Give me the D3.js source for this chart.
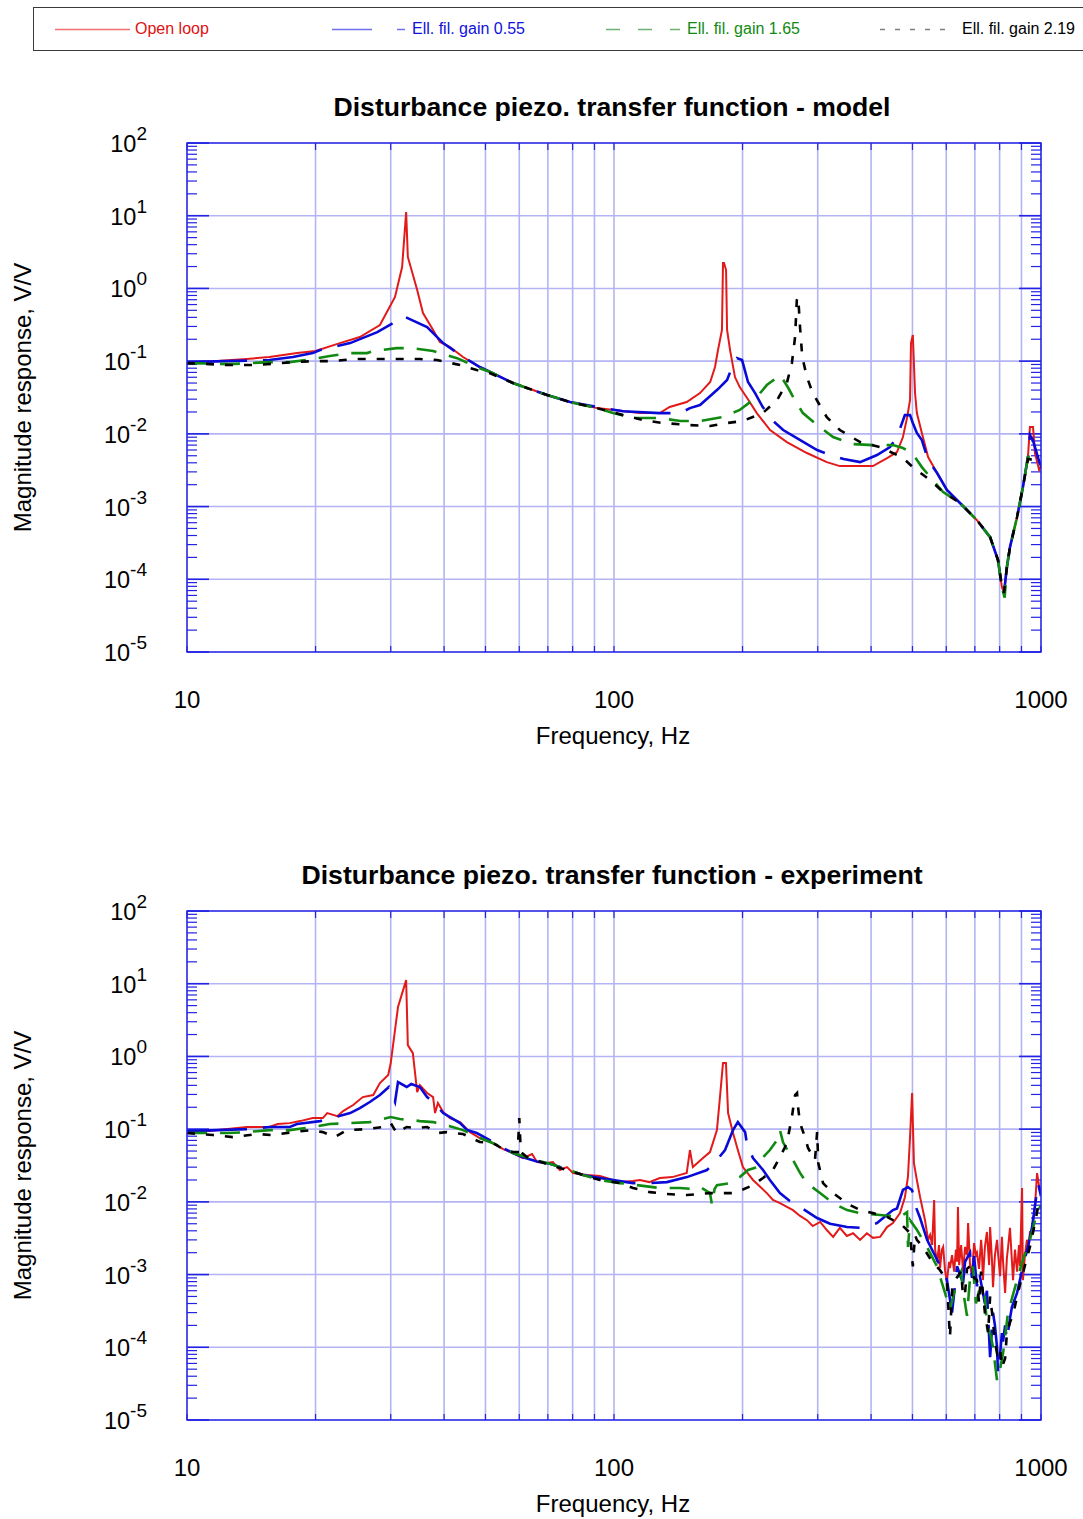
<!DOCTYPE html>
<html>
<head>
<meta charset="utf-8">
<script src="https://cdn.jsdelivr.net/npm/d3@7"></script>
<style>
  html, body { margin: 0; padding: 0; background: #fff; }
  svg { display: block; }
  text { font-family: "Liberation Sans", Arial, Helvetica, sans-serif; }
</style>
</head>
<body>
<svg id="chart" width="1083" height="1519"></svg>
<script>
// ---- axis ticks and labels ----
const freqTickValues = [10, 100, 1000];
const magExponents = [2, 1, 0, -1, -2, -3, -4, -5];
const panelTitles = [
  "Disturbance piezo. transfer function - model",
  "Disturbance piezo. transfer function - experiment"
];
const xAxisTitle = "Frequency, Hz";
const yAxisTitle = "Magnitude response, V/V";
const seriesNames = ["Open loop", "Ell. fil. gain 0.55", "Ell. fil. gain 1.65", "Ell. fil. gain 2.19"];

// ---- model: [frequency Hz, magnitude V/V] ----
const modelOpenLoop = [
  [10,0.094],[13.8,0.107],[15.6,0.114],[18.1,0.129],[20,0.138],[22.8,0.177],[25.4,0.2145],[28.3,0.314],
  [30.7,0.762],[31.9,1.97],[32.6,11.2],[32.9,2.71],[34.6,0.95],[35.7,0.459],[37.7,0.268],[39.1,0.183],
  [41.3,0.156],[44.3,0.114],[48.5,0.083],[51.3,0.071],[58,0.05],[69.7,0.0342],[78.9,0.0274],[91.2,0.0226],
  [115,0.0193],[128,0.0193],[135,0.0234],[148,0.0274],[159,0.0364],[168,0.0516],[172.4,0.083],[175.2,0.142],
  [179,0.268],[180,2.24],[181,2.24],[183,1.79],[184,0.268],[187,0.142],[192,0.0604],[197,0.044],[205,0.0311],
  [216,0.0193],[232,0.0113],[254,0.00771],[283,0.00545],[315,0.00409],[338,0.0036],[404,0.0036],[436,0.00465],
  [460,0.00562],[475,0.00904],[486,0.017],[493.5,0.0292],[496,0.177],[501,0.229],[507,0.0364],[512,0.0193],
  [526,0.0103],[544,0.0048],[571,0.00289],[602,0.00169],[646,0.00112],[708,0.00065],[760,0.00038],
  [793,0.000184],[810,7.8e-5],[819,6.5e-5],[832,0.000147],[846,0.000277],[879,0.00072],[907,0.00185],
  [932,0.0048],[942,0.0124],[958,0.0124],[968,0.00545],[990,0.00318],[1000,0.0035]
];
const modelGain055 = [
  [10,0.097],[15.6,0.1035],[17.7,0.114],[19.7,0.129],[20.5,0.142],[24.1,0.177],[27.9,0.251],[30.4,0.334],
  [32.1,0.417],[36.5,0.294],[39.8,0.177],[44.3,0.114],[48.5,0.083],[51.3,0.071],[58,0.05],[69.7,0.0342],
  [78.9,0.0274],[91.2,0.0234],[105,0.0205],[128,0.0193],[143,0.0193],[150.6,0.0226],[159,0.0249],[166,0.0311],
  [175,0.041],[184,0.055],[189,0.083],[194,0.11],[199.5,0.1035],[206,0.0516],[214,0.0364],[223,0.0234],
  [236,0.015],[249,0.0113],[273,0.00822],[299,0.00598],[317,0.00527],[345,0.0045],[377,0.00409],[413,0.00511],
  [443,0.00658],[460,0.00904],[480,0.0181],[493.5,0.0181],[501,0.0141],[512,0.0103],[526,0.00822],[544,0.00436],
  [571,0.00289],[602,0.00169],[646,0.00112],[708,0.00065],[760,0.00038],[793,0.000184],[810,7.8e-5],[819,6.5e-5],
  [832,0.000147],[846,0.000277],[879,0.00072],[907,0.00185],[932,0.0048],[942,0.0096],[958,0.0081],[990,0.0042],[1000,0.0036]
];
const modelGain165 = [
  [10,0.094],[12.6,0.091],[15.6,0.097],[17.4,0.097],[19.7,0.107],[21.6,0.1175],[24.1,0.129],[26.4,0.129],
  [27.3,0.138],[31,0.151],[33.8,0.151],[37.7,0.138],[39.8,0.125],[42.9,0.11],[48.5,0.08],[51.3,0.071],[58,0.05],
  [69.7,0.0342],[78.9,0.0274],[91.2,0.0226],[99.5,0.0193],[111,0.0165],[128,0.0165],[143,0.015],[159,0.015],
  [179,0.017],[197,0.0213],[216,0.0321],[228,0.0469],[245,0.0644],[256,0.0427],[265,0.0292],[277,0.0193],
  [299,0.0132],[326,0.00904],[363,0.00724],[404,0.00701],[450,0.00701],[475,0.00638],[499,0.00545],[526,0.00349],
  [550,0.00255],[590,0.00158],[646,0.00112],[708,0.00065],[760,0.00038],[793,0.000184],[810,7.8e-5],[822,5.6e-5],
  [832,0.000147],[846,0.000277],[879,0.00072],[907,0.00185],[932,0.0048],[950,0.0051],[968,0.0051],[1000,0.0045]
];
const modelGain219 = [
  [10,0.094],[12.5,0.0884],[14.6,0.0884],[17.7,0.097],[19.7,0.1],[22,0.1],[24.5,0.107],[27.3,0.107],[31,0.107],
  [35.1,0.107],[38.5,0.1035],[43.6,0.0884],[47.7,0.0754],[51.3,0.068],[58,0.05],[69.7,0.0342],[78.9,0.0274],
  [91.2,0.0226],[105,0.0181],[117,0.0155],[130,0.0141],[151,0.0132],[168,0.0128],[184,0.0141],[200,0.015],
  [223,0.0193],[241,0.0292],[254,0.05],[261,0.0942],[265.5,0.2145],[268,0.692],[270,0.762],[273,0.268],
  [276,0.114],[283,0.0604],[292,0.0364],[315,0.017],[338,0.0113],[377,0.00771],[420,0.00658],[460,0.00511],
  [475,0.00465],[501,0.00349],[550,0.00231],[590,0.00158],[646,0.00112],[708,0.00065],[760,0.00038],
  [793,0.000184],[810,7.8e-5],[819,6.5e-5],[832,0.000147],[846,0.000277],[879,0.00072],[907,0.00185],
  [932,0.0045],[958,0.0044],[1000,0.0035]
];

// ---- experiment: [frequency Hz, magnitude V/V] ----
const expOpenLoop = [
  [10,0.088],[13.8,0.107],[15.6,0.107],[16.3,0.1175],[17.4,0.121],[18.4,0.129],[19.7,0.142],[20.8,0.142],
  [21.3,0.1665],[22.5,0.151],[23.2,0.177],[24.5,0.2145],[25.8,0.276],[27.3,0.294],[28.3,0.431],[29.6,0.555],
  [30,0.811],[31.2,4.78],[32.6,11.2],[32.9,1.43],[33.8,1.11],[34.6,0.324],[35.1,0.404],[36.5,0.314],[37.7,0.276],
  [38.1,0.1665],[38.7,0.2286],[39.8,0.172],[41.3,0.142],[43.6,0.125],[46,0.091],[48.5,0.0754],[52.1,0.0644],
  [55,0.0532],[58,0.0469],[61.2,0.04],[64.3,0.0455],[66,0.0353],[69.7,0.0342],[71.9,0.0353],[74.7,0.0274],
  [77.6,0.0301],[80.2,0.0249],[86.5,0.0234],[92.7,0.0226],[99.5,0.02],[103.3,0.0187],[110.8,0.0193],[115,0.02],
  [121,0.0187],[128,0.0213],[137,0.0219],[148,0.0249],[150.6,0.0516],[153,0.0301],[161.6,0.04],[167.8,0.0484],
  [174.2,0.097],[177,0.268],[180,0.811],[182.9,0.811],[185,0.1665],[190,0.0884],[195,0.0516],[200.4,0.0301],
  [211.6,0.02],[228,0.0132],[235.6,0.0106],[244.7,0.0096],[262.5,0.0077],[272.7,0.0064],[283,0.0056],
  [292,0.00465],[304,0.0053],[315,0.0041],[326,0.0033],[338,0.0044],[351,0.0034],[363,0.0037],[377,0.003],
  [391,0.0037],[404,0.0032],[420,0.0033],[436,0.0045],[450,0.0051],[467.5,0.007],[480,0.0116],[488,0.022],
  [493.5,0.078],[499,0.314],[504,0.034],[512,0.02],[521,0.0116],
  [535,0.0056],[544,0.003],[550,0.0035],[556,0.00255],[562,0.0106],[565,0.0022],[571,0.0015],[577,0.00255],
  [580,0.00123],[586,0.0022],[590,0.0024],[596,0.00115],[602,0.00079],[609,0.0015],[612,0.00123],[619,0.00185],
  [626,0.0011],[632,0.0022],[636,0.0015],[639,0.0085],[643,0.00135],[650,0.00255],[657,0.0011],[664,0.0024],
  [671,0.00185],[675,0.0051],[682,0.00135],[689,0.00095],[697,0.00271],[704,0.00185],[708,0.002],[716,0.0012],
  [724,0.003],[727,0.0022],[731,0.00084],[739,0.0024],[747,0.00385],[756,0.00135],[760,0.0045],[768,0.0015],
  [772,0.00067],[780,0.00185],[789,0.003],[793,0.002],[802,0.00095],[810,0.0033],[815,0.0015],[824,0.00056],
  [832,0.00169],[837,0.00232],[846,0.0044],[855,0.0015],[860,0.00084],[869,0.0022],[879,0.0011],[888,0.00255],
  [893,0.0013],[903,0.0155],[907,0.00084],[917,0.00185],[927,0.003],[937,0.00255],[942,0.00385],[953,0.0041],
  [963,0.0066],[968,0.0085],[979,0.0249],[989,0.017],[995,0.0145],[1000,0.016]
];
const expGain055 = [
  [10,0.094],[13.8,0.1],[15.6,0.107],[17.4,0.107],[18.1,0.1175],[20.5,0.129],[24.1,0.1665],[25.4,0.195],
  [26.8,0.236],[28.3,0.294],[29.7,0.38],[30.7,0.236],[31.2,0.445],[32.7,0.38],[33.5,0.417],[35.1,0.38],
  [36.5,0.276],[38.1,0.2286],[38.7,0.201],[39.8,0.1665],[43.6,0.121],[45.3,0.097],[47.7,0.0884],[51.3,0.07],
  [55,0.055],[58,0.047],[61.2,0.041],[66,0.036],[70.8,0.0334],[77.6,0.028],[84.6,0.0234],[92.7,0.0213],
  [110.8,0.0181],[121.4,0.0181],[133,0.0187],[148.2,0.0219],[165.1,0.0274],[174.2,0.0376],[182,0.0516],
  [190,0.097],[195,0.125],[202.8,0.091],[205,0.0604],[211.6,0.04],[223.4,0.0274],[231.8,0.02],[244.7,0.0132],
  [258,0.0103],[272.7,0.0085],[299,0.006],[320.6,0.005],[351.4,0.0045],[377,0.0044],[413,0.0051],[450,0.0077],
  [460,0.0081],[475,0.0146],[488,0.016],[499,0.0145],[507,0.0091],[521,0.006],[541,0.003],[571,0.0016],
  [602,0.00085],[619,0.0003],[636,0.0013],[657,0.00076],[664,0.0015],[682,0.002],[689,0.0009],[697,0.0018],
  [708,0.00069],[716,0.0011],[731,0.00056],[739,0.0004],[747,0.0006],[760,7.3e-5],[772,0.0003],[780,0.0002],
  [789,0.0001],[793,4.4e-5],[802,8e-5],[810,0.000157],[815,0.00012],[824,0.0002],[832,0.000126],[846,0.00025],
  [855,0.00036],[879,0.00056],[907,0.0013],[932,0.0024],[953,0.0045],[984,0.018],[1000,0.012]
];
const expGain165 = [
  [10,0.0884],[12.4,0.0884],[13.8,0.091],[15.6,0.097],[17.4,0.097],[19.7,0.107],[21.6,0.1175],[24.1,0.121],
  [26.8,0.125],[30,0.1466],[31.5,0.1377],[33.8,0.133],[35.1,0.129],[37.7,0.125],[41.3,0.11],[44.3,0.097],
  [48.5,0.0754],[52.1,0.064],[55,0.055],[58,0.047],[62.5,0.041],[66,0.037],[70.8,0.0334],[77.6,0.028],
  [84.6,0.0234],[92.7,0.02],[103.3,0.0181],[113.2,0.017],[128.2,0.0155],[142.8,0.0155],[153,0.015],[159,0.016],
  [167.8,0.0132],[169.6,0.0091],[172,0.015],[174.2,0.017],[187,0.0181],[197,0.0219],[206,0.0274],[216.3,0.03],
  [223.4,0.041],[231.8,0.0516],[240.8,0.0708],[244.7,0.097],[248.8,0.066],[262.5,0.0376],[272.7,0.025],
  [283.1,0.0181],[303.7,0.0132],[325.8,0.0096],[351.4,0.0077],[376.7,0.007],[419.7,0.0066],[467.5,0.0062],
  [485.6,0.0072],[488.2,0.0024],[493.5,0.0056],[512.4,0.0041],[540.8,0.0024],[570.6,0.0013],[612.3,0.00033],
  [636,0.00084],[650,0.0011],[657,0.0006],[671,0.00027],[682,0.0009],[692.8,0.0013],[704,0.0004],[719.5,0.00067],
  [739,0.0005],[747,0.0002],[760,0.000157],[772,0.0001],[789,3.5e-5],[802,5e-5],[815,8.3e-5],[837,0.0003],
  [879,0.00084],[907,0.0016],[942,0.003],[979,0.0072],[1000,0.009]
];
const expGain219 = [
  [10,0.0884],[11.5,0.083],[12.8,0.0778],[14.6,0.0857],[15.8,0.083],[17.7,0.091],[19.6,0.097],[20.8,0.091],
  [22.2,0.0778],[23.7,0.097],[26.4,0.1],[28.8,0.107],[30,0.121],[31,0.0884],[32.7,0.107],[34.6,0.1035],
  [36.5,0.107],[38.5,0.0884],[40.6,0.091],[44.3,0.0857],[48.5,0.0665],[52.1,0.0644],[55,0.053],[58,0.0484],
  [59.5,0.0484],[60,0.142],[60.5,0.0484],[62.5,0.0413],[70.8,0.0321],[77.6,0.0274],[84.6,0.0234],[92.7,0.02],
  [103.3,0.0181],[110.8,0.0155],[121.4,0.0136],[133,0.0128],[148.2,0.0124],[167.8,0.0132],[177,0.0132],
  [190,0.0132],[200.4,0.0148],[211.6,0.017],[223.4,0.0213],[235.6,0.0274],[244.7,0.0413],[251.5,0.0567],
  [255.6,0.0778],[261,0.1466],[265.5,0.294],[268.3,0.314],[269.8,0.201],[272.7,0.121],[280,0.0778],[284.7,0.055],
  [295.6,0.0376],[299,0.091],[301,0.034],[308.7,0.0181],[325.8,0.0132],[351.4,0.0095],[377,0.0077],[404,0.007],
  [436,0.0062],[450,0.0056],[467.5,0.0051],[485.6,0.0041],[493.5,0.0037],[501,0.0013],[507,0.0035],[512,0.003],
  [529,0.0024],[556,0.0015],[580,0.00115],[602,0.00084],[612,0.000138],[620,0.0007],[636,0.00092],[650,0.0011],
  [657,0.0005],[664,0.00056],[671,0.0012],[682,0.0013],[697,0.0009],[708,0.00084],[716,0.0004],[724,0.0011],
  [731,0.00056],[739,0.0003],[752,0.000157],[760,0.0005],[768,0.0003],[780,0.00012],[789,8.3e-5],[802,0.0001],
  [810,5.3e-5],[824,7e-5],[832,0.000157],[846,0.00022],[860,0.00028],[883,0.00056],[907,0.00105],[942,0.0024],
  [968,0.0051],[984,0.0085],[1000,0.007]
];

// ---- drawing ----
const svg = d3.select("#chart");
const frameColor = "#2323e6";
const gridColor = "#b4b4f2";
const seriesStyles = [
  { color: "#e31a1a", width: 2.0, dash: null,     legendDash: null },
  { color: "#0a0ad8", width: 2.6, dash: "60,16",  legendDash: "40,25" },
  { color: "#108a10", width: 2.6, dash: "20,13",  legendDash: "14,18" },
  { color: "#000000", width: 2.6, dash: "8,11",   legendDash: "5,10" }
];
const legendLineColor = ["#ee7070", "#7070ee", "#70b070", "#808080"];

// legend
const legend = svg.append("g");
legend.append("rect").attr("x", 33.5).attr("y", 7.5).attr("width", 1060).attr("height", 43)
  .attr("fill", "none").attr("stroke", "#3a3a3a").attr("stroke-width", 1);
const legendLine = [[55, 130], [332, 405], [606, 680], [880, 950]];
const legendText = [135, 412, 687, 962];
const legendTextColor = ["#e01010", "#1010e0", "#108a10", "#000000"];
seriesNames.forEach((name, i) => {
  legend.append("line").attr("x1", legendLine[i][0]).attr("x2", legendLine[i][1])
    .attr("y1", 29.5).attr("y2", 29.5).attr("stroke", legendLineColor[i])
    .attr("stroke-width", 1.3)
    .attr("stroke-dasharray", seriesStyles[i].legendDash);
  legend.append("text").attr("x", legendText[i]).attr("y", 33.5).attr("font-size", 16)
    .attr("fill", legendTextColor[i]).text(name);
});

function drawPanel(top, title, series, id) {
  const plotTop = top, plotBottom = top + 509, plotLeft = 187, plotRight = 1041;
  const x = d3.scaleLog().domain([10, 1000]).range([plotLeft, plotRight]);
  const y = d3.scaleLog().domain([1e-5, 100]).range([plotBottom, plotTop]);
  const g = svg.append("g");

  const minorX = [];
  [10, 100].forEach(dec => { for (let k = 1; k <= 9; k++) minorX.push(dec * k); });
  minorX.push(1000);
  const minorY = [];
  magExponents.slice(1).forEach(e => { for (let k = 2; k <= 9; k++) minorY.push(k * Math.pow(10, e)); });
  const decadesY = magExponents.map(e => Math.pow(10, e));

  // grid
  g.append("g").selectAll("line").data(minorX).join("line")
    .attr("x1", d => x(d)).attr("x2", d => x(d)).attr("y1", plotTop).attr("y2", plotBottom)
    .attr("stroke", gridColor).attr("stroke-width", 1.6);
  g.append("g").selectAll("line").data(decadesY).join("line")
    .attr("x1", plotLeft).attr("x2", plotRight).attr("y1", d => y(d)).attr("y2", d => y(d))
    .attr("stroke", gridColor).attr("stroke-width", 1.6);

  // y ticks, both sides
  const tickG = g.append("g").attr("stroke", frameColor).attr("stroke-width", 1.2);
  [[plotLeft, 1], [plotRight, -1]].forEach(([x0, dir]) => {
    tickG.append("g").selectAll("line").data(minorY).join("line")
      .attr("x1", x0).attr("x2", x0 + dir * 10).attr("y1", d => y(d)).attr("y2", d => y(d));
    tickG.append("g").selectAll("line").data(decadesY).join("line")
      .attr("x1", x0).attr("x2", x0 + dir * 22).attr("y1", d => y(d)).attr("y2", d => y(d))
      .attr("stroke-width", 1.6);
  });
  // x ticks, top and bottom
  tickG.append("g").selectAll("line").data(minorX).join("line")
    .attr("x1", d => x(d)).attr("x2", d => x(d)).attr("y1", plotTop).attr("y2", plotTop + 7);
  tickG.append("g").selectAll("line").data(minorX).join("line")
    .attr("x1", d => x(d)).attr("x2", d => x(d)).attr("y1", plotBottom).attr("y2", plotBottom - 6);

  // data
  const clipId = "clip" + id;
  svg.append("clipPath").attr("id", clipId).append("rect")
    .attr("x", plotLeft).attr("y", plotTop).attr("width", plotRight - plotLeft).attr("height", plotBottom - plotTop);
  const line = d3.line().x(d => x(d[0])).y(d => y(d[1]));
  const dataG = g.append("g").attr("clip-path", `url(#${clipId})`);
  [0, 1, 2, 3].forEach(i => {
    dataG.append("path").datum(series[i]).attr("d", line).attr("fill", "none")
      .attr("stroke", seriesStyles[i].color).attr("stroke-width", seriesStyles[i].width)
      .attr("stroke-linejoin", "miter").attr("stroke-dasharray", seriesStyles[i].dash);
  });

  // frame
  g.append("rect").attr("x", plotLeft).attr("y", plotTop)
    .attr("width", plotRight - plotLeft).attr("height", plotBottom - plotTop)
    .attr("fill", "none").attr("stroke", frameColor).attr("stroke-width", 1.4);

  // y labels 10^n
  magExponents.forEach(e => {
    const t = g.append("text").attr("x", 147).attr("y", y(Math.pow(10, e)) + 9)
      .attr("text-anchor", "end").attr("font-size", 23.5).attr("fill", "#000");
    t.append("tspan").text("10");
    t.append("tspan").attr("dy", -12).attr("font-size", 19).text(String(e));
  });
  // x labels
  freqTickValues.forEach(v => {
    g.append("text").attr("x", x(v)).attr("y", plotBottom + 56).attr("text-anchor", "middle")
      .attr("font-size", 24).attr("fill", "#000").text(v);
  });
  g.append("text").attr("x", 613).attr("y", plotBottom + 92).attr("text-anchor", "middle")
    .attr("font-size", 24).attr("fill", "#000").text(xAxisTitle);
  g.append("text").attr("transform", `translate(31,${(plotTop + plotBottom) / 2}) rotate(-90)`)
    .attr("text-anchor", "middle").attr("font-size", 24).attr("fill", "#000").text(yAxisTitle);
  g.append("text").attr("x", 612).attr("y", plotTop - 27).attr("text-anchor", "middle")
    .attr("font-size", 25).attr("font-weight", "bold").attr("fill", "#000")
    .attr("textLength", title.length > 46 ? 621 : 557).attr("lengthAdjust", "spacingAndGlyphs")
    .text(title);
}

drawPanel(143, panelTitles[0], [modelOpenLoop, modelGain055, modelGain165, modelGain219], "m");
drawPanel(911, panelTitles[1], [expOpenLoop, expGain055, expGain165, expGain219], "e");
</script>
</body>
</html>
